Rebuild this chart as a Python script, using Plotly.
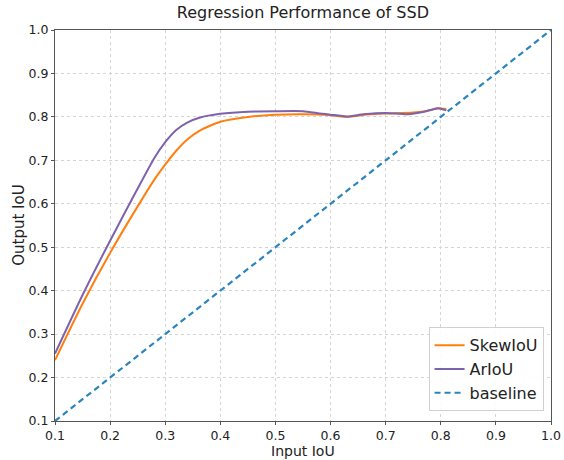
import plotly.graph_objects as go

skew_x = [0.10, 0.15, 0.20, 0.25, 0.28, 0.30, 0.32, 0.34, 0.362, 0.40, 0.45, 0.50, 0.55, 0.60, 0.63, 0.67, 0.70, 0.75, 0.78, 0.795, 0.81]
skew_y = [0.24, 0.37, 0.487, 0.594, 0.655, 0.69, 0.722, 0.748, 0.768, 0.789, 0.800, 0.805, 0.806, 0.804, 0.800, 0.806, 0.808, 0.810, 0.815, 0.820, 0.818]

ariou_x = [0.10, 0.15, 0.20, 0.25, 0.28, 0.30, 0.32, 0.34, 0.362, 0.40, 0.45, 0.50, 0.55, 0.58, 0.60, 0.63, 0.66, 0.70, 0.74, 0.77, 0.795, 0.81]
ariou_y = [0.255, 0.39, 0.515, 0.635, 0.705, 0.742, 0.770, 0.787, 0.798, 0.807, 0.812, 0.813, 0.813, 0.808, 0.805, 0.801, 0.806, 0.809, 0.806, 0.812, 0.820, 0.815]

base_x = [0.1, 1.0]
base_y = [0.1, 1.0]

ticks = [0.1, 0.2, 0.3, 0.4, 0.5, 0.6, 0.7, 0.8, 0.9, 1.0]
tick_text = ["0.1", "0.2", "0.3", "0.4", "0.5", "0.6", "0.7", "0.8", "0.9", "1.0"]

fig = go.Figure()
fig.add_trace(go.Scatter(x=skew_x, y=skew_y, mode="lines", name="SkewIoU",
                         line=dict(color="#ff7f0e", width=2, shape="spline", smoothing=0.6)))
fig.add_trace(go.Scatter(x=ariou_x, y=ariou_y, mode="lines", name="ArIoU",
                         line=dict(color="#7d62ad", width=2, shape="spline", smoothing=0.6)))
fig.add_trace(go.Scatter(x=base_x, y=base_y, mode="lines", name="baseline",
                         line=dict(color="#2a84bd", width=2.2, dash="6px,4px")))

axis_common = dict(
    range=[0.1, 1.0], tickvals=ticks, ticktext=tick_text,
    showgrid=True, gridcolor="#d4d4d4", griddash="dot", gridwidth=1,
    showline=True, linecolor="#555555", linewidth=1, mirror=True,
    ticks="outside", ticklen=3, tickcolor="#555555",
    tickfont=dict(family="DejaVu Sans", size=12.5, color="#222222"),
    zeroline=False, automargin=False,
)

fig.update_layout(
    width=564, height=460,
    margin=dict(l=55, r=13, t=30, b=39),
    paper_bgcolor="white", plot_bgcolor="white",
    title=dict(text="Regression Performance of SSD", x=0.537, xanchor="center",
               y=0.985, yanchor="top",
               font=dict(family="DejaVu Sans", size=16, color="#222222")),
    xaxis=axis_common,
    yaxis=axis_common,
    legend=dict(x=0.985, y=0.025, xanchor="right", yanchor="bottom",
                bgcolor="rgba(255,255,255,0.9)", bordercolor="#d0d0d0", borderwidth=1,
                font=dict(family="DejaVu Sans", size=16, color="#222222"),
                tracegroupgap=2),
    showlegend=True,
    annotations=[
        dict(text="Input IoU", xref="paper", yref="paper", x=0.5, y=-0.099,
             xanchor="center", yanchor="bottom", showarrow=False, borderpad=0,
             font=dict(family="DejaVu Sans", size=14, color="#222222")),
        dict(text="Output IoU", xref="paper", yref="paper", x=-0.074, y=0.5,
             xanchor="center", yanchor="middle", textangle=-90, showarrow=False,
             font=dict(family="DejaVu Sans", size=15, color="#222222")),
    ],
)

fig.write_html("out.html")
